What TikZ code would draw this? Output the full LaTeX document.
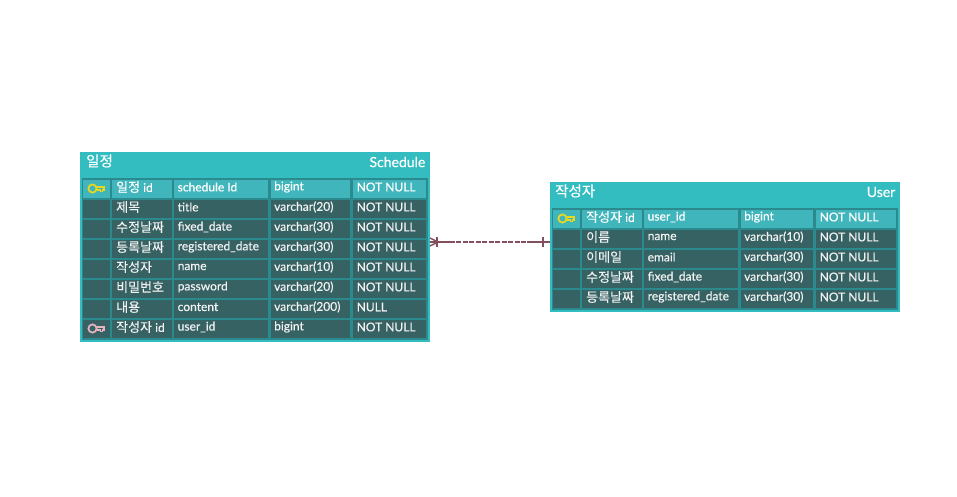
\documentclass[tikz,border=0pt]{standalone}
\usepackage{fontspec}
\setmainfont{Lato}[FakeBold=0.4]
\newfontfamily\krfont{Noto Sans CJK KR}[FakeBold=0.2]
\usetikzlibrary{positioning}
\definecolor{tablebg}{HTML}{33BDC1}
\definecolor{gridbg}{HTML}{2A8A8E}
\definecolor{rowdark}{HTML}{366264}
\definecolor{rowkey}{HTML}{40B6BC}
\definecolor{relcol}{HTML}{85505E}
\definecolor{pkcol}{HTML}{E8D81E}
\definecolor{fkcol}{HTML}{E8B4C4}
\newcommand{\kr}[1]{{\krfont\fontsize{13}{14}\selectfont #1}}
\tikzset{
	x=1pt, y=-1pt,
	panel/.style={fill=#1, draw=none, inner sep=0pt, outer sep=0pt, anchor=north west},
	celltext/.style={anchor=west, inner sep=0pt, text=#1, font=\fontsize{12}{14}\selectfont},
	titletext/.style={inner sep=0pt, text=white, font=\fontsize{14}{16}\selectfont},
	keyicon/.style={draw=#1, line width=1.7pt, fill=none}
}
% last column starts here, it differs per table
\newcommand{\lastcol}{272.5}
% one row of a table: x, y, name, fill, text colour, five cells
\newcommand{\tablerow}[9]{
	\fill[#4] (#1+3,#2) rectangle +(27,18);
	\fill[#4] (#1+31.5,#2) rectangle +(60,18);
	\fill[#4] (#1+94,#2) rectangle +(94,18);
	\fill[#4] (#1+191,#2) rectangle (#1+\lastcol-2.5,#2+18);
	\fill[#4] (#1+\lastcol,#2) rectangle (#1+346,#2+18);
	\node[celltext=#5] (#3a) at (#1+36,#2+7) {#6};
	\node[celltext=#5] (#3b) at (#1+97.5,#2+7) {#7};
	\node[celltext=#5] (#3c) at (#1+194,#2+7) {#8};
	\node[celltext=#5] (#3d) at (#1+\lastcol+4,#2+7) {#9};
}
\newcommand{\keyglyph}[3]{
	\draw[keyicon=#3] (#1,#2) circle (4.1pt);
	\draw[keyicon=#3] (#1+4.1,#2-1.6) -- ++(7.3,0) -- ++(0,3) -- ++(-1.5,0) -- ++(0,1.5) -- ++(-2,0) -- ++(0,-1.5) -- ++(-3.8,0);
}
\begin{document}
\begin{tikzpicture}
	\useasboundingbox (0,0) rectangle (957,496);
	% schedule table
	\node[panel=tablebg, minimum width=350pt, minimum height=190pt] (schedule) at (80,152) {};
	\fill[gridbg] (82,178) rectangle (428,340);
	\node[titletext, anchor=west] (scheduleKo) at (86,161) {\krfont\fontsize{14.5}{16}\selectfont 일정};
	\node[titletext, anchor=east] (scheduleEn) at (425.5,162) {Schedule};
	\tablerow{80}{180}{sa}{rowkey}{white}{\kr{일정} id}{schedule Id}{bigint}{NOT NULL}
	\tablerow{80}{200}{sb}{rowdark}{white!90!gray}{\kr{제목}}{title}{varchar(20)}{NOT NULL}
	\tablerow{80}{220}{sc}{rowdark}{white!90!gray}{\kr{수정날짜}}{fixed\_date}{varchar(30)}{NOT NULL}
	\tablerow{80}{240}{sd}{rowdark}{white!90!gray}{\kr{등록날짜}}{registered\_date}{varchar(30)}{NOT NULL}
	\tablerow{80}{260}{se}{rowdark}{white!90!gray}{\kr{작성자}}{name}{varchar(10)}{NOT NULL}
	\tablerow{80}{280}{sf}{rowdark}{white!90!gray}{\kr{비밀번호}}{password}{varchar(20)}{NOT NULL}
	\tablerow{80}{300}{sg}{rowdark}{white!90!gray}{\kr{내용}}{content}{varchar(200)}{NULL}
	\tablerow{80}{320}{sh}{rowdark}{white!90!gray}{\kr{작성자} id}{user\_id}{bigint}{NOT NULL}
	\keyglyph{92.5}{188.5}{pkcol}
	\keyglyph{92.5}{328.5}{fkcol}
	% user table
	\renewcommand{\lastcol}{265.5}
	\node[panel=tablebg, minimum width=350pt, minimum height=130pt] (user) at (550,182) {};
	\fill[gridbg] (552,208) rectangle (898,310);
	\node[titletext, anchor=west] (userKo) at (555,191) {\krfont\fontsize{14.5}{16}\selectfont 작성자};
	\node[titletext, anchor=east] (userEn) at (895.5,192) {User};
	\tablerow{550}{210}{ua}{rowkey}{white}{\kr{작성자} id}{user\_id}{bigint}{NOT NULL}
	\tablerow{550}{230}{ub}{rowdark}{white!90!gray}{\kr{이름}}{name}{varchar(10)}{NOT NULL}
	\tablerow{550}{250}{uc}{rowdark}{white!90!gray}{\kr{이메일}}{email}{varchar(30)}{NOT NULL}
	\tablerow{550}{270}{ud}{rowdark}{white!90!gray}{\kr{수정날짜}}{fixed\_date}{varchar(30)}{NOT NULL}
	\tablerow{550}{290}{ue}{rowdark}{white!90!gray}{\kr{등록날짜}}{registered\_date}{varchar(30)}{NOT NULL}
	\keyglyph{562.5}{218.5}{pkcol}
	% relation
	\coordinate (relFrom) at (schedule.east |- 0,242);
	\coordinate (relTo) at (user.west |- 0,242);
	\draw[relcol, line width=1.5pt, dash pattern=on 5pt off 1.5pt] (relFrom) -- (relTo);
	\draw[relcol, line width=1.5pt] (relFrom) -- ++(23,0);
	\draw[relcol, line width=1.5pt] (relTo) -- ++(-23,0);
	\draw[relcol, line width=1.5pt] (relFrom) ++(0,-4) -- ++(8,4) -- ++(-8,4);
	\draw[relcol, line width=1.5pt] (relFrom) ++(7,-5) -- ++(0,10);
	\draw[relcol, line width=1.5pt] (relTo) ++(-7,-5) -- ++(0,10);
\end{tikzpicture}
\end{document}
